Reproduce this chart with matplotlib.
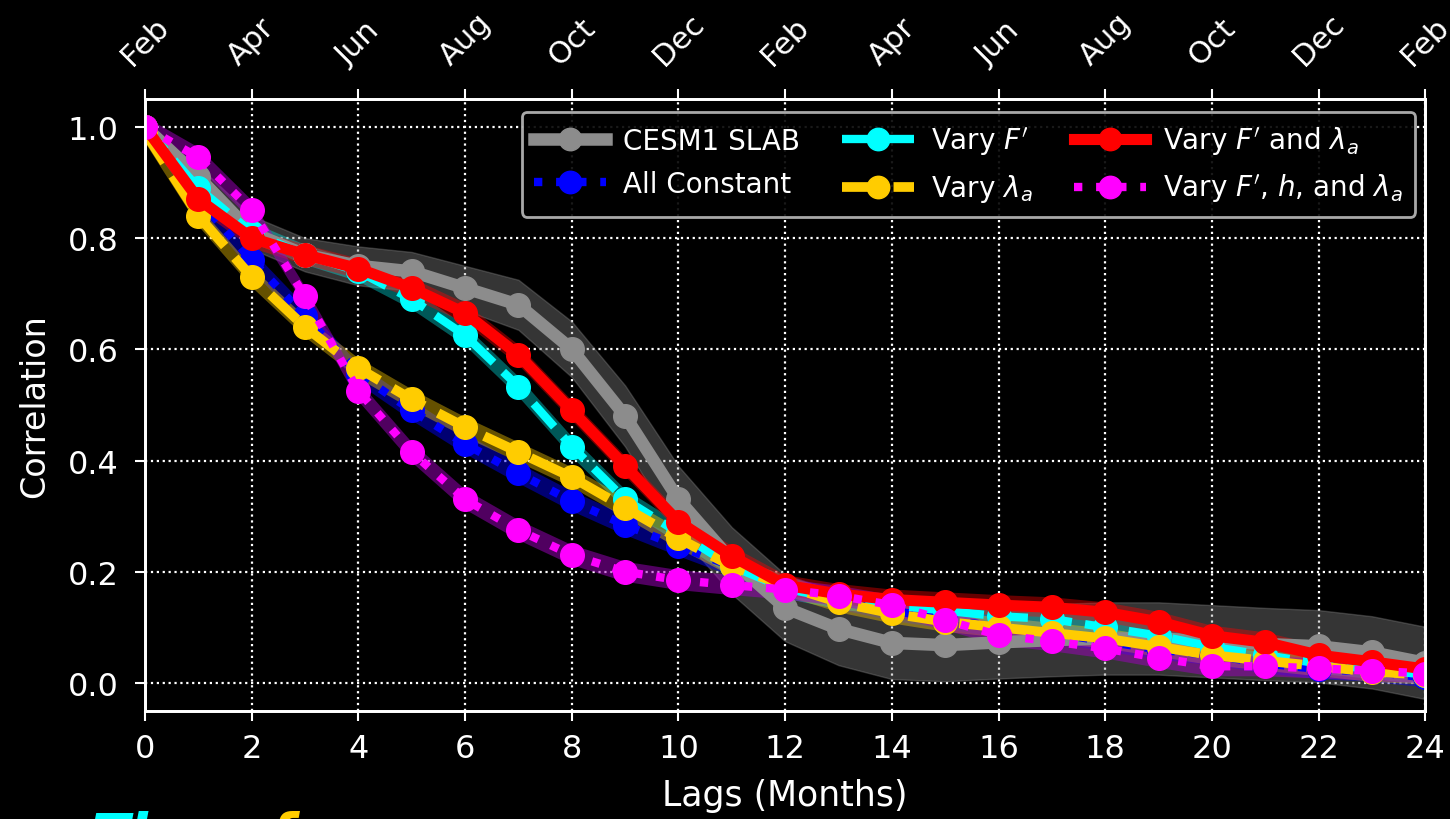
import numpy as np
import matplotlib
matplotlib.use("Agg")
import matplotlib.pyplot as plt

lags = np.arange(25)

cesm_slab = [1.00, 0.91, 0.81, 0.77, 0.75, 0.74, 0.71, 0.68, 0.60, 0.48, 0.33, 0.22, 0.135,
             0.097, 0.072, 0.068, 0.073, 0.077, 0.080, 0.080, 0.075, 0.070, 0.066, 0.055, 0.036]
all_const = [1.00, 0.87, 0.76, 0.66, 0.556, 0.49, 0.43, 0.377, 0.327, 0.284, 0.246, 0.21, 0.175,
             0.15, 0.13, 0.115, 0.10, 0.09, 0.075, 0.06, 0.05, 0.035, 0.025, 0.02, 0.01]
vary_f = [1.00, 0.89, 0.81, 0.77, 0.74, 0.69, 0.625, 0.533, 0.425, 0.33, 0.27, 0.21, 0.17,
          0.15, 0.14, 0.13, 0.12, 0.115, 0.10, 0.085, 0.065, 0.05, 0.035, 0.025, 0.015]
vary_lam = [0.99, 0.84, 0.73, 0.64, 0.566, 0.51, 0.46, 0.415, 0.37, 0.315, 0.26, 0.21, 0.175,
            0.145, 0.125, 0.11, 0.10, 0.09, 0.08, 0.065, 0.05, 0.04, 0.03, 0.02, 0.015]
vary_f_lam = [1.00, 0.87, 0.80, 0.77, 0.745, 0.71, 0.665, 0.59, 0.49, 0.39, 0.29, 0.228, 0.176,
              0.16, 0.15, 0.145, 0.14, 0.136, 0.127, 0.11, 0.085, 0.073, 0.05, 0.038, 0.025]
vary_all = [1.00, 0.945, 0.85, 0.695, 0.525, 0.415, 0.33, 0.275, 0.23, 0.20, 0.185, 0.176, 0.168,
            0.157, 0.14, 0.113, 0.086, 0.075, 0.062, 0.045, 0.03, 0.03, 0.026, 0.022, 0.017]

cesm_halfwidth = [0.0, 0.02, 0.03, 0.03, 0.035, 0.035, 0.04, 0.045, 0.05, 0.055, 0.06, 0.06, 0.06,
                  0.065, 0.065, 0.065, 0.065, 0.065, 0.065, 0.065, 0.065, 0.065, 0.065, 0.065, 0.065]
model_halfwidth = 0.018

month_labels = ["Feb", "Apr", "Jun", "Aug", "Oct", "Dec", "Feb",
                "Apr", "Jun", "Aug", "Oct", "Dec", "Feb"]

series = [
    ("CESM1 SLAB", cesm_slab, "#8c8c8c", "-", 9, 17, cesm_halfwidth, "#9a9a9a", 0.35),
    ("All Constant", all_const, "#0000ff", ":", 6, 17, None, "#0000ff", 0.45),
    ("Vary $F'$", vary_f, "#00ffff", "--", 6, 17, None, "#00ffff", 0.35),
    ("Vary $\\lambda_a$", vary_lam, "#ffcc00", "--", 7, 17, None, "#ffcc00", 0.4),
    ("Vary $F'$ and $\\lambda_a$", vary_f_lam, "#ff0000", "-", 8, 17, None, "#ff0000", 0.4),
    ("Vary $F'$, $h$, and $\\lambda_a$", vary_all, "#ff00ff", ":", 6, 17, None, "#a000c0", 0.5),
]

plt.rcParams['font.family'] = ['DejaVu Sans']
fig = plt.figure(figsize=(14.5, 8.2), dpi=100, facecolor="black")
ax = fig.add_axes([0.1, 0.132, 0.883, 0.746], facecolor="black")

handles = []
for label, vals, col, ls, lw, ms, hw, bandcol, alpha in series:
    vals = np.array(vals)
    half = np.array(hw) if hw is not None else model_halfwidth
    ax.fill_between(lags, vals - half, vals + half, color=bandcol, alpha=alpha,
                    edgecolor="#888888" if hw is not None else "none", linewidth=1.0, zorder=2)
    h, = ax.plot(lags, vals, color=col, linestyle=ls, linewidth=lw, marker="o",
                 markersize=ms, label=label, zorder=3)
    handles.append(h)

ax.set_xlim(0, 24)
ax.set_ylim(-0.05, 1.05)
ax.set_xticks(np.arange(0, 25, 2))
ax.set_yticks([0.0, 0.2, 0.4, 0.6, 0.8, 1.0])
ax.grid(True, color="white", linestyle=":", linewidth=1.6)
ax.set_axisbelow(True)
ax.tick_params(colors="white", labelsize=23, width=1.5, length=7)
ax.tick_params(axis="y", pad=12)
ax.tick_params(axis="x", pad=9)
for s in ax.spines.values():
    s.set_color("white")
    s.set_linewidth(2)
ax.set_xlabel("Lags (Months)", color="white", fontsize=25, labelpad=10)
ax.set_ylabel("Correlation", color="white", fontsize=24, labelpad=12)

ax2 = ax.twiny()
ax2.set_xlim(0, 24)
ax2.set_xticks(np.arange(0, 25, 2))
ax2.set_xticklabels(month_labels, rotation=45, fontsize=22, color="white")
ax2.tick_params(colors="white", width=1.5, length=7, pad=14)
for s in ax2.spines.values():
    s.set_color("white")
    s.set_linewidth(2)

leg = ax.legend(handles=handles, ncol=3, loc="upper right", bbox_to_anchor=(0.992, 0.979),
                borderaxespad=0.0,
                fontsize=20, facecolor="black", edgecolor="#bbbbbb", framealpha=0.9,
                labelcolor="white", handlelength=2.6, columnspacing=1.5, markerscale=0.95,
                handletextpad=0.6, borderpad=0.45, labelspacing=0.55)
leg.get_frame().set_linewidth(2)

fig.text(0.063, 0.011, "Th", color="#00ffff", fontsize=40, fontstyle="italic",
         fontweight="bold", va="top", ha="left")
fig.text(0.186, 0.011, "f", color="#ffcc00", fontsize=40, fontstyle="italic",
         fontweight="bold", va="top", ha="left")

fig.savefig("out.png", dpi=100, facecolor="black")
